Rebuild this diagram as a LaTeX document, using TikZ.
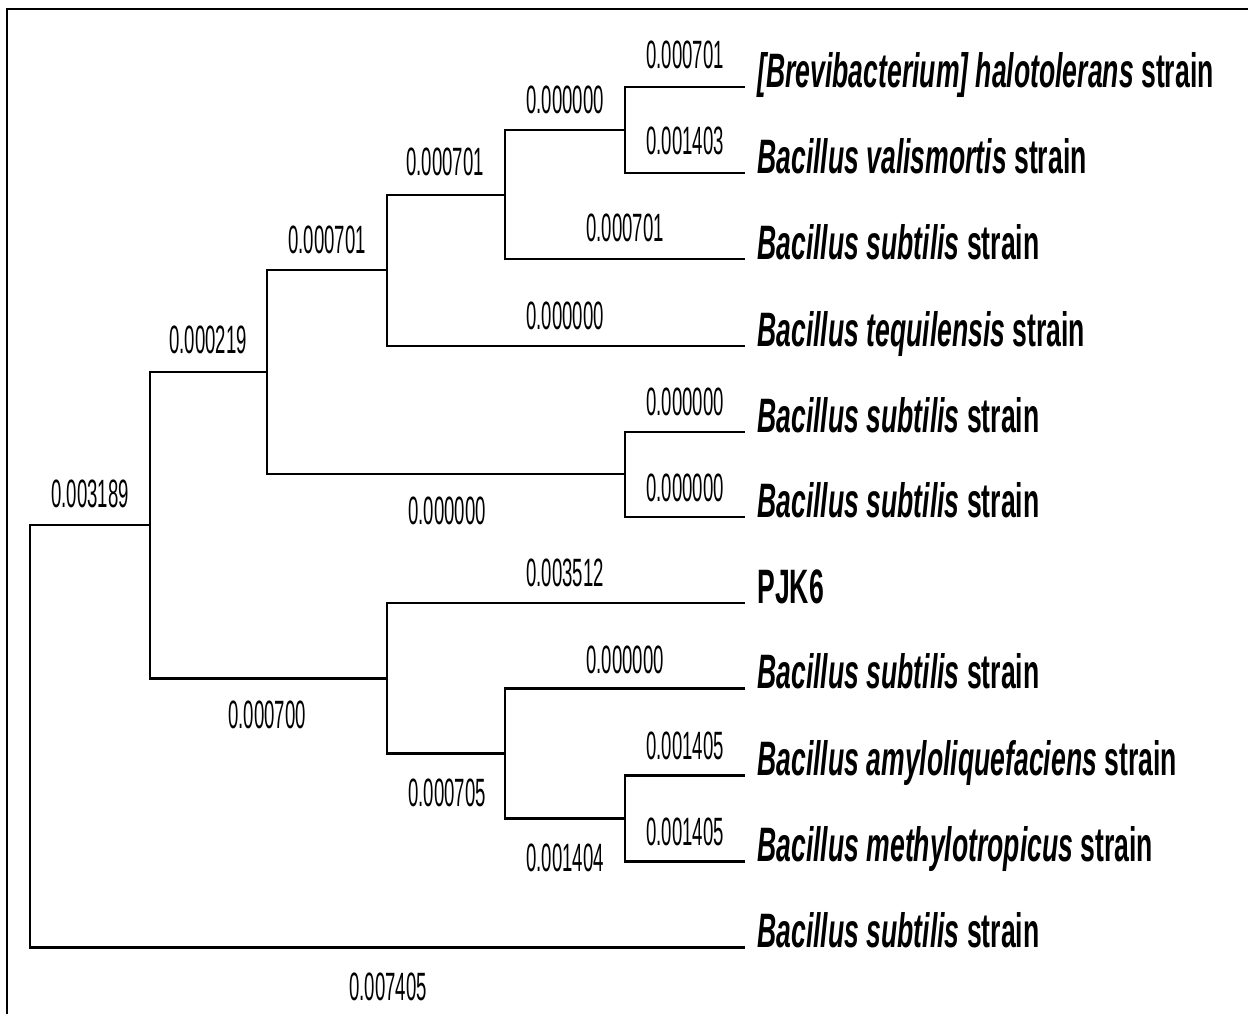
\documentclass[tikz,border=0pt]{standalone}
\usepackage{fontspec}
\setmainfont{Liberation Sans}
\newfontfamily\numfont[FakeStretch=0.47]{Liberation Sans}
\newfontfamily\taxfont[FakeStretch=0.55]{Liberation Sans}
\tikzset{
  branch/.style={line width=1.7pt},
  len/.style={inner sep=0pt, font=\numfont\fontsize{22.5}{24}\selectfont},
  taxon/.style={anchor=base west, inner xsep=0.24cm, inner ysep=0pt,
                font=\taxfont\bfseries\fontsize{27.5}{30}\selectfont},
}

\begin{document}
\begin{tikzpicture}[x=0.02cm, y=-0.02cm]  % one unit = one pixel of the figure
    \useasboundingbox (0,0) rectangle (1248,1014);

    % frame on the left and top
    \draw[line width=1pt] (7,1014) -- (7,9) -- (1248,9);

    % taxa
    \node[taxon] (l1) at (745,87) {\textit{[Brevibacterium] halotolerans} strain};
    \node[taxon] (l2) at (745,173) {\textit{Bacillus valismortis} strain};
    \node[taxon] (l3) at (745,259) {\textit{Bacillus subtilis} strain};
    \node[taxon] (l4) at (745,346) {\textit{Bacillus tequilensis} strain};
    \node[taxon] (l5) at (745,432) {\textit{Bacillus subtilis} strain};
    \node[taxon] (l6) at (745,517) {\textit{Bacillus subtilis} strain};
    \node[taxon] (l7) at (745,603) {PJK6};
    \node[taxon] (l8) at (745,688) {\textit{Bacillus subtilis} strain};
    \node[taxon] (l9) at (745,775) {\textit{Bacillus amyloliquefaciens} strain};
    \node[taxon] (l10) at (745,861) {\textit{Bacillus methylotropicus} strain};
    \node[taxon] (l11) at (745,947) {\textit{Bacillus subtilis} strain};

    % inner nodes of the tree
    \coordinate (n1) at (625,130);
    \coordinate (n2) at (505,195);
    \coordinate (n3) at (387,270);
    \coordinate (n4) at (625,474);
    \coordinate (n5) at (267,372);
    \coordinate (n6) at (625,818);
    \coordinate (n7) at (505,753);
    \coordinate (n8) at (387,678);
    \coordinate (n9) at (150,525);
    \coordinate (root) at (30,736);

    % branches
    \draw[branch] (l1.base west) -| (n1) |- (l2.base west);
    \draw[branch] (n1) -| (n2) |- (l3.base west);
    \draw[branch] (n2) -| (n3) |- (l4.base west);
    \draw[branch] (l5.base west) -| (n4) |- (l6.base west);
    \draw[branch] (n3) -| (n5) |- (n4);
    \draw[branch] (l9.base west) -| (n6) |- (l10.base west);
    \draw[branch] (l8.base west) -| (n7) |- (n6);
    \draw[branch] (l7.base west) -| (n8) |- (n7);
    \draw[branch] (n5) -| (n9) |- (n8);
    \draw[branch] (n9) -| (root) |- (l11.base west);

    % branch lengths
    \foreach \i/\x/\y/\t in {1/685/55/0.000701, 2/685/141/0.001403,
        3/565/100/0.000000, 4/445/162/0.000701, 5/625/228/0.000701,
        6/327/240/0.000701, 7/565/316/0.000000, 8/208/340/0.000219,
        9/685/402/0.000000, 10/685/488/0.000000, 11/447/511/0.000000,
        12/90/494/0.003189, 13/565/573/0.003512, 14/625/660/0.000000,
        15/267/715/0.000700, 16/685/746/0.001405, 17/685/832/0.001405,
        18/447/793/0.000705, 19/565/858/0.001404, 20/388/987/0.007405} {
        \node[len] (b\i) at (\x,\y) {\t};
    }
\end{tikzpicture}
\end{document}
